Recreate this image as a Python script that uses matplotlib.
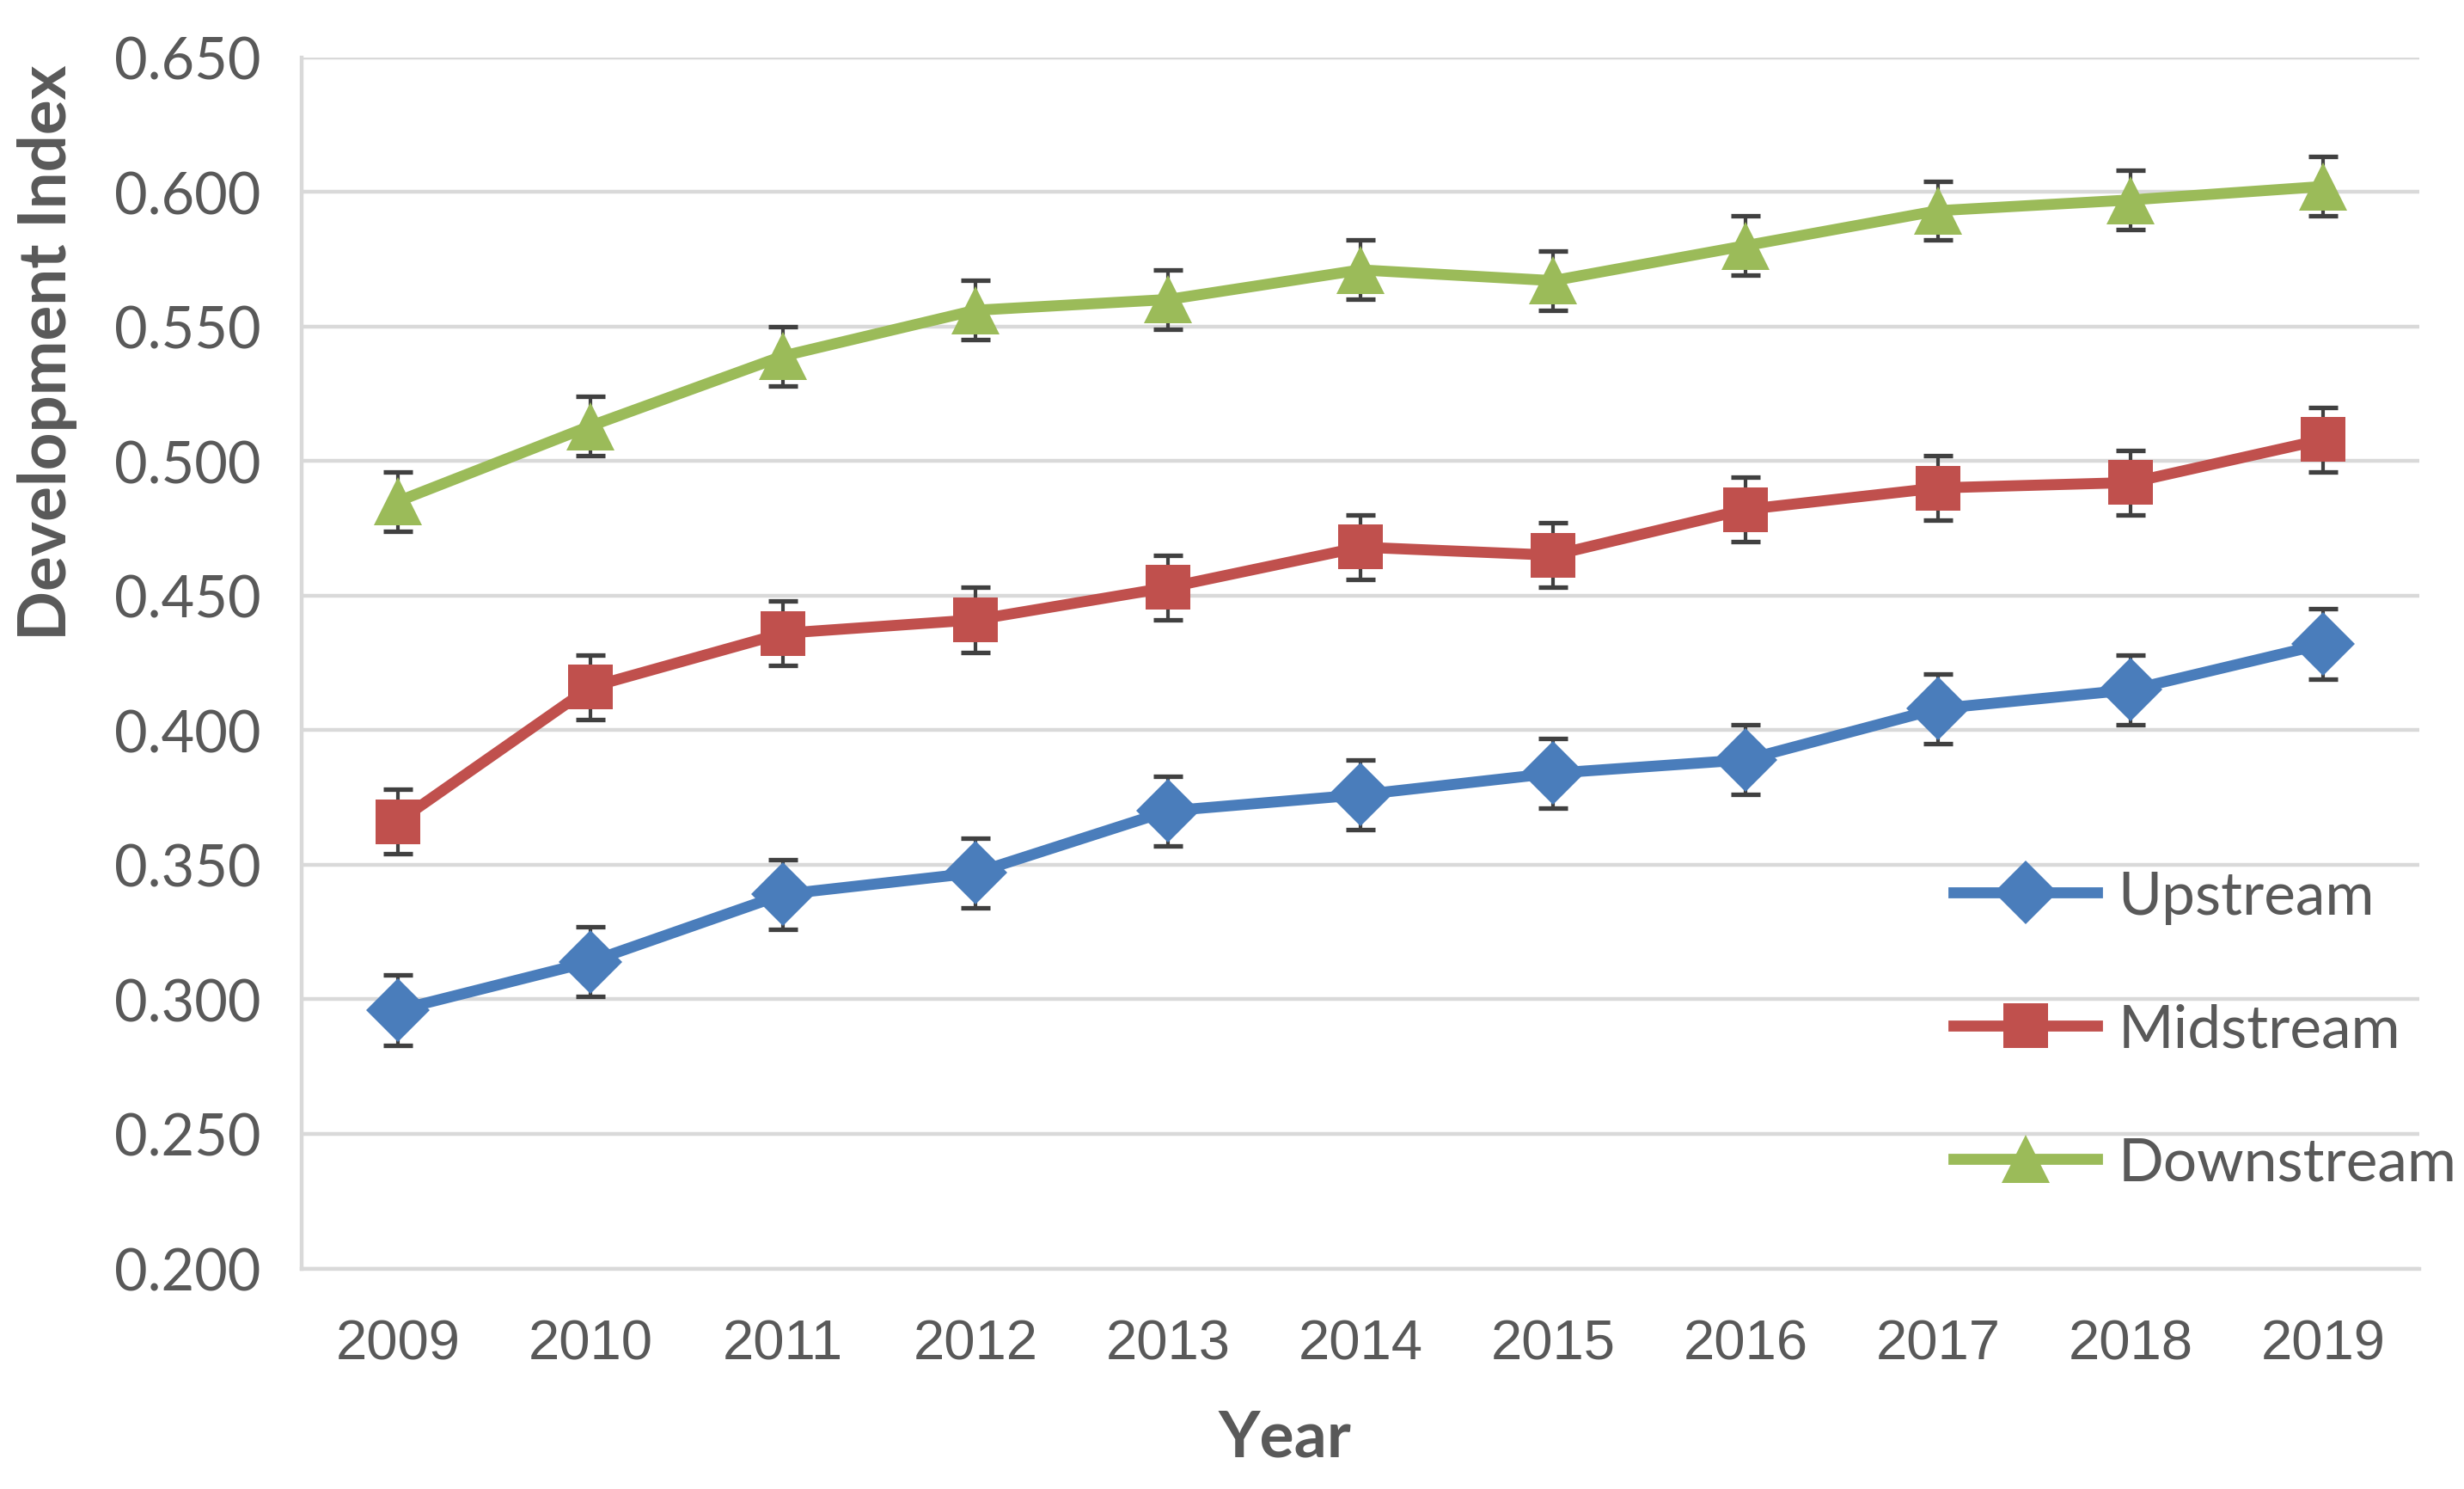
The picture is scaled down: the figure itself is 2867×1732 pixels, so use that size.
import matplotlib
matplotlib.use("Agg")
import matplotlib.pyplot as plt
from matplotlib.ticker import FormatStrFormatter

years = ['2009', '2010', '2011', '2012', '2013', '2014', '2015', '2016', '2017', '2018', '2019']
upstream = [0.296, 0.314, 0.339, 0.347, 0.370, 0.376, 0.384, 0.389, 0.408, 0.415, 0.432]
midstream = [0.366, 0.416, 0.436, 0.441, 0.453, 0.468, 0.465, 0.482, 0.490, 0.492, 0.508]
downstream = [0.485, 0.513, 0.539, 0.556, 0.560, 0.571, 0.567, 0.580, 0.593, 0.597, 0.602]
up_err = [0.013] * 11
mid_err = [0.012] * 11
down_err = [0.011] * 11

series = [
    ('Upstream', upstream, up_err, '#4A7DBB', 'D', 19),
    ('Midstream', midstream, mid_err, '#C0504D', 's', 19),
    ('Downstream', downstream, down_err, '#9BBB59', '^', 20),
]

plt.rcParams['font.family'] = ['Lato', 'DejaVu Sans']
text_color = '#595959'

fig = plt.figure(figsize=(14.335, 8.665), dpi=200)
ax = fig.add_axes([0.1224, 0.148, 0.8596, 0.813])

x = list(range(len(years)))
for name, vals, err, color, marker, size in series:
    ax.errorbar(x, vals, yerr=err, fmt='none', ecolor='#404040',
                elinewidth=1.5, capsize=6, capthick=1.9, zorder=2)
    ax.plot(x, vals, color=color, linewidth=4.6, marker=marker,
            markersize=size, markeredgewidth=0, label=name, zorder=3)

ax.set_xlim(-0.5, len(years) - 0.5)
ax.set_ylim(0.2, 0.65)
ax.set_yticks([0.2 + 0.05 * i for i in range(10)])
ax.yaxis.set_major_formatter(FormatStrFormatter('%.3f'))
ax.set_xticks(x)
ax.set_xticklabels(years, family=['Liberation Sans', 'DejaVu Sans'], fontsize=23.5)

ax.grid(axis='y', color='#D9D9D9', linewidth=1.6)
ax.set_axisbelow(True)
for side in ['top', 'right']:
    ax.spines[side].set_visible(False)
for side in ['left', 'bottom']:
    ax.spines[side].set_color('#D9D9D9')
    ax.spines[side].set_linewidth(1.6)
ax.tick_params(axis='both', length=0, colors=text_color)
ax.tick_params(axis='y', labelsize=24, pad=17)
ax.tick_params(axis='x', pad=21)

ax.set_xlabel('Year', fontsize=27, fontweight='bold', color=text_color)
ax.set_ylabel('Development Index', fontsize=27.5, fontweight='bold', color=text_color)
ax.xaxis.set_label_coords(0.464, -0.115)
ax.yaxis.set_label_coords(-0.106, 0.757)

leg = ax.legend(loc='center left', bbox_to_anchor=(0.78, 0.197), frameon=False,
                fontsize=25, labelspacing=1.32, handlelength=2.4, handletextpad=0.35,
                borderpad=0, borderaxespad=0, labelcolor=text_color)

fig.savefig('out.png', dpi=200)
